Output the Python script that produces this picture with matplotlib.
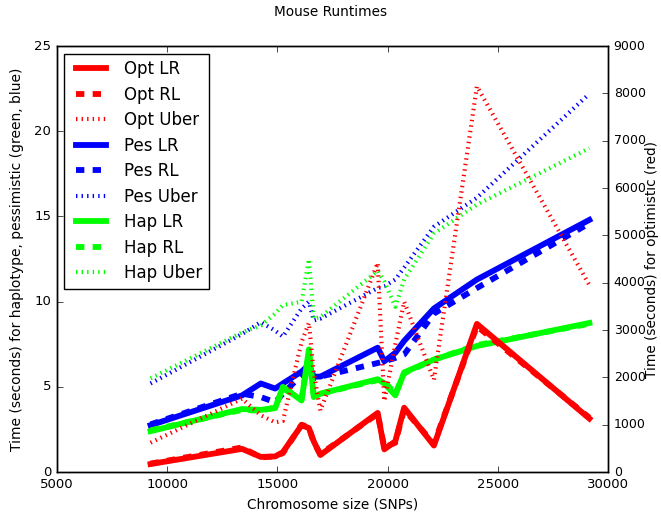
import matplotlib
matplotlib.use("Agg")
import matplotlib.pyplot as plt

# chromosome sizes (SNPs)
snps = [9250, 13400, 14250, 14900, 15250, 16100, 16430, 16650, 16950,
        19550, 19850, 20350, 20750, 22100, 24050, 29150]

# optimistic runtimes, seconds (right axis)
opt_lr = [170, 490, 320, 330, 420, 990, 930, 650, 360,
          1250, 480, 650, 1360, 560, 3130, 1130]
opt_rl = [180, 520, 310, 330, 400, 1000, 950, 620, 380,
          1230, 520, 620, 1320, 600, 3080, 1150]
opt_uber = [620, 1550, 1200, 1050, 1080, 2750, 3150, 2100, 1300,
            4420, 1500, 2700, 3600, 1950, 8150, 3950]

# pessimistic runtimes, seconds (left axis)
pes_lr = [2.75, 4.5, 5.2, 4.9, 5.2, 5.9, 6.3, 5.6, 5.6,
          7.3, 6.5, 7.0, 7.7, 9.6, 11.3, 14.8]
pes_rl = [2.8, 4.6, 4.4, 4.1, 4.6, 5.7, 6.1, 5.5, 5.6,
          6.4, 6.5, 6.7, 6.9, 9.3, 10.8, 14.6]
pes_uber = [5.2, 8.1, 8.8, 8.3, 7.95, 9.6, 10.0, 8.9, 9.0,
            10.8, 10.9, 11.3, 12.0, 14.4, 16.1, 22.2]

# haplotype runtimes, seconds (left axis)
hap_lr = [2.4, 3.7, 3.65, 3.75, 5.0, 4.2, 7.2, 4.4, 4.6,
          5.45, 5.2, 4.5, 5.85, 6.6, 7.4, 8.75]
hap_rl = [2.45, 3.65, 3.6, 3.8, 4.9, 4.3, 7.0, 4.5, 4.6,
          5.4, 5.3, 4.6, 5.8, 6.6, 7.45, 8.7]
hap_uber = [5.5, 8.2, 8.6, 9.3, 9.8, 10.0, 12.5, 9.0, 9.1,
            11.8, 11.2, 9.7, 11.3, 14.0, 15.7, 19.0]

plt.style.use("classic")
red, blue, green = "#ff0000", "#0000ff", "#00ff00"

fig = plt.figure(figsize=(6.61, 5.12), dpi=100)
fig.patch.set_facecolor("white")
ax1 = fig.add_axes([0.086, 0.078, 0.834, 0.832])
ax2 = ax1.twinx()

h = []
h += ax2.plot(snps, opt_lr, color=red, lw=4.2, ls="-", label="Opt LR")
h += ax2.plot(snps, opt_rl, color=red, lw=4.2, ls="--", label="Opt RL")
h += ax2.plot(snps, opt_uber, color=red, lw=3, ls=":", label="Opt Uber")
h += ax1.plot(snps, pes_lr, color=blue, lw=4.2, ls="-", label="Pes LR")
h += ax1.plot(snps, pes_rl, color=blue, lw=4.2, ls="--", label="Pes RL")
h += ax1.plot(snps, pes_uber, color=blue, lw=3, ls=":", label="Pes Uber")
h += ax1.plot(snps, hap_lr, color=green, lw=4.2, ls="-", label="Hap LR")
h += ax1.plot(snps, hap_rl, color=green, lw=4.2, ls="--", label="Hap RL")
h += ax1.plot(snps, hap_uber, color=green, lw=3, ls=":", label="Hap Uber")

ax1.set_xlim(5000, 30000)
ax1.set_ylim(0, 25)
ax2.set_ylim(0, 9000)
ax1.set_xticks(range(5000, 30001, 5000))
ax1.set_yticks(range(0, 26, 5))
ax2.set_yticks(range(0, 9001, 1000))
ax1.tick_params(labelsize=9.5)
ax2.tick_params(labelsize=9, pad=4)

ax1.set_xlabel("Chromosome size (SNPs)", fontsize=9.8)
ax1.set_ylabel("Time (seconds) for haplotype, pessimistic (green, blue)", fontsize=10)
ax2.set_ylabel("Time (seconds) for optimistic (red)", fontsize=9.8)
ax2.yaxis.set_label_coords(1.067, 0.5)
ax1.yaxis.set_label_coords(-0.06, 0.5)
fig.suptitle("Mouse Runtimes", fontsize=9.8, y=0.99)

ax2.legend(h, [l.get_label() for l in h], loc="upper left", fontsize=12,
           handlelength=2.4, labelspacing=0.45, borderaxespad=0.45)

fig.savefig("out.png", dpi=100, facecolor="white")
